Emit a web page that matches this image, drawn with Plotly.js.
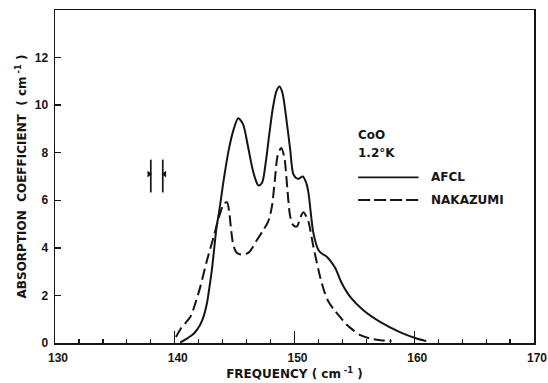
<!DOCTYPE html>
<html>
<head>
<meta charset="utf-8">
<script src="https://cdn.plot.ly/plotly-3.0.1.min.js"></script>
<style>
  html, body { margin: 0; padding: 0; background: #fff; }
  #chart { width: 548px; height: 383px; }
</style>
</head>
<body>
<div id="chart"></div>
<script>
// AFCL (solid)
var afclFreq = [140.45, 140.9, 141.6, 142.1, 142.4, 142.7, 142.9, 143.1, 143.3, 143.5, 143.7, 143.9, 144.1, 144.5, 144.9, 145.3, 145.7, 146.1, 146.5, 146.8, 147.0, 147.3, 147.6, 147.9, 148.2, 148.5, 148.75, 149.0, 149.3, 149.64, 149.92, 150.3, 150.7, 151.0, 151.17, 151.58, 152.0, 152.3, 152.7, 153.0, 153.4, 153.95, 154.65, 155.75, 157.15, 158.8, 160.2, 161.0];
var afclAbs  = [0.02, 0.15, 0.4, 0.75, 1.1, 1.7, 2.36, 3.07, 4.0, 4.9, 5.5, 6.2, 6.9, 8.1, 8.95, 9.45, 9.2, 8.3, 7.3, 6.8, 6.62, 6.75, 7.6, 8.8, 9.9, 10.6, 10.78, 10.5, 9.5, 8.13, 7.08, 6.9, 7.0, 6.7, 6.3, 4.62, 3.91, 3.75, 3.63, 3.45, 3.15, 2.51, 1.94, 1.38, 0.89, 0.46, 0.19, 0.08];

// NAKAZUMI (dashed)
var nakFreq = [140.1, 140.5, 141.3, 141.8, 142.13, 142.7, 143.25, 143.7, 144.1, 144.36, 144.55, 144.7, 144.9, 145.2, 145.6, 146.17, 146.86, 147.4, 147.8, 148.1, 148.35, 148.6, 148.89, 149.15, 149.4, 149.64, 149.9, 150.2, 150.5, 150.75, 151.0, 151.17, 151.58, 152.14, 152.5, 152.84, 153.3, 153.8, 154.3, 154.9, 155.5, 156.3, 157.2, 158.1];
var nakAbs  = [0.25, 0.6, 1.1, 1.8, 2.36, 3.49, 4.47, 5.3, 5.85, 5.92, 5.5, 4.8, 4.1, 3.78, 3.72, 3.8, 4.33, 4.75, 5.1, 5.7, 6.8, 7.9, 8.2, 7.8, 6.5, 5.32, 4.95, 4.9, 5.3, 5.5, 5.3, 5.1, 4.05, 2.78, 2.15, 1.73, 1.4, 1.1, 0.8, 0.54, 0.33, 0.19, 0.12, 0.08];

// resolution marker
var resFreq = [138.0, 139.0];
var resSpan = [6.33, 7.71];
var resLevel = 7.1;

// axis ticks
var xTick0 = 130, xDtick = 10, xMinor = 2;
var yTickVals = [0, 2, 4, 6, 8, 10, 12];
var yTickText = ['0', '2', '4', '6', '8', '10', '12'];

var ink = '#151515';
var txtFont = {family: 'DejaVu Sans', size: 12, color: ink, weight: 'bold'};
var tickFont = {family: 'Liberation Sans', size: 12, color: ink, weight: 'bold'};

var traces = [
  {x: afclFreq, y: afclAbs, mode: 'lines', line: {color: ink, width: 2, shape: 'spline', smoothing: 0.8}, name: 'AFCL', hoverinfo: 'skip'},
  {x: nakFreq, y: nakAbs, mode: 'lines', line: {color: ink, width: 2, shape: 'spline', smoothing: 0.8, dash: '11px,5px'}, name: 'NAKAZUMI', hoverinfo: 'skip'},
  {x: [resFreq[0], resFreq[0]], y: resSpan, mode: 'lines', line: {color: ink, width: 1.7}, hoverinfo: 'skip'},
  {x: [resFreq[1], resFreq[1]], y: resSpan, mode: 'lines', line: {color: ink, width: 1.7}, hoverinfo: 'skip'},
  {x: [resFreq[0] - 0.15], y: [resLevel], mode: 'markers', marker: {symbol: 'triangle-right', size: 6, color: ink}, hoverinfo: 'skip'},
  {x: [resFreq[1] + 0.15], y: [resLevel], mode: 'markers', marker: {symbol: 'triangle-left', size: 6, color: ink}, hoverinfo: 'skip'}
];

var layout = {
  width: 548, height: 383,
  margin: {l: 55, r: 14, t: 10, b: 40},
  paper_bgcolor: '#fff', plot_bgcolor: '#fff',
  showlegend: false,
  xaxis: {
    range: [130, 170], tick0: xTick0, dtick: xDtick, ticks: 'inside', ticklen: 12, tickwidth: 1.4, tickcolor: ink,
    minor: {dtick: xMinor, ticks: 'inside', ticklen: 4.5, tickwidth: 1.2, tickcolor: ink, showgrid: false},
    showline: true, linecolor: ink, linewidth: 1.5, mirror: true, showgrid: false, zeroline: false,
    tickfont: tickFont, ticklabelstandoff: 3, ticklabelshift: 3, ticklabeloverflow: 'allow',
    title: {text: 'FREQUENCY ( cm<sup> -1</sup> )', font: txtFont, standoff: 5}
  },
  yaxis: {
    range: [0, 14], tickvals: yTickVals, ticktext: yTickText, ticks: 'inside', ticklen: 6, tickwidth: 1.4, tickcolor: ink,
    showline: true, linecolor: ink, linewidth: 1.5, mirror: true, showgrid: false, zeroline: false,
    tickfont: tickFont, ticklabelstandoff: 3,
    title: {text: 'ABSORPTION  COEFFICIENT  ( cm<sup> -1</sup> )', font: txtFont, standoff: 5}
  },
  shapes: [
    {type: 'line', xref: 'paper', yref: 'paper', x0: 0.633, x1: 0.759, y0: 0.4976, y1: 0.4976, line: {color: ink, width: 1.8}},
    {type: 'line', xref: 'paper', yref: 'paper', x0: 0.633, x1: 0.759, y0: 0.4294, y1: 0.4294, line: {color: ink, width: 1.8, dash: '12px,4px'}}
  ],
  annotations: [
    {text: 'CoO', xref: 'paper', yref: 'paper', x: 0.628, y: 0.6246, xanchor: 'left', yanchor: 'middle', showarrow: false, font: txtFont},
    {text: '1.2°K', xref: 'paper', yref: 'paper', x: 0.628, y: 0.5697, xanchor: 'left', yanchor: 'middle', showarrow: false, font: txtFont},
    {text: 'AFCL', xref: 'paper', yref: 'paper', x: 0.781, y: 0.4976, xanchor: 'left', yanchor: 'middle', showarrow: false, font: txtFont},
    {text: 'NAKAZUMI', xref: 'paper', yref: 'paper', x: 0.781, y: 0.4294, xanchor: 'left', yanchor: 'middle', showarrow: false, font: txtFont}
  ]
};

Plotly.newPlot('chart', traces, layout, {staticPlot: true, displayModeBar: false});
</script>
</body>
</html>
